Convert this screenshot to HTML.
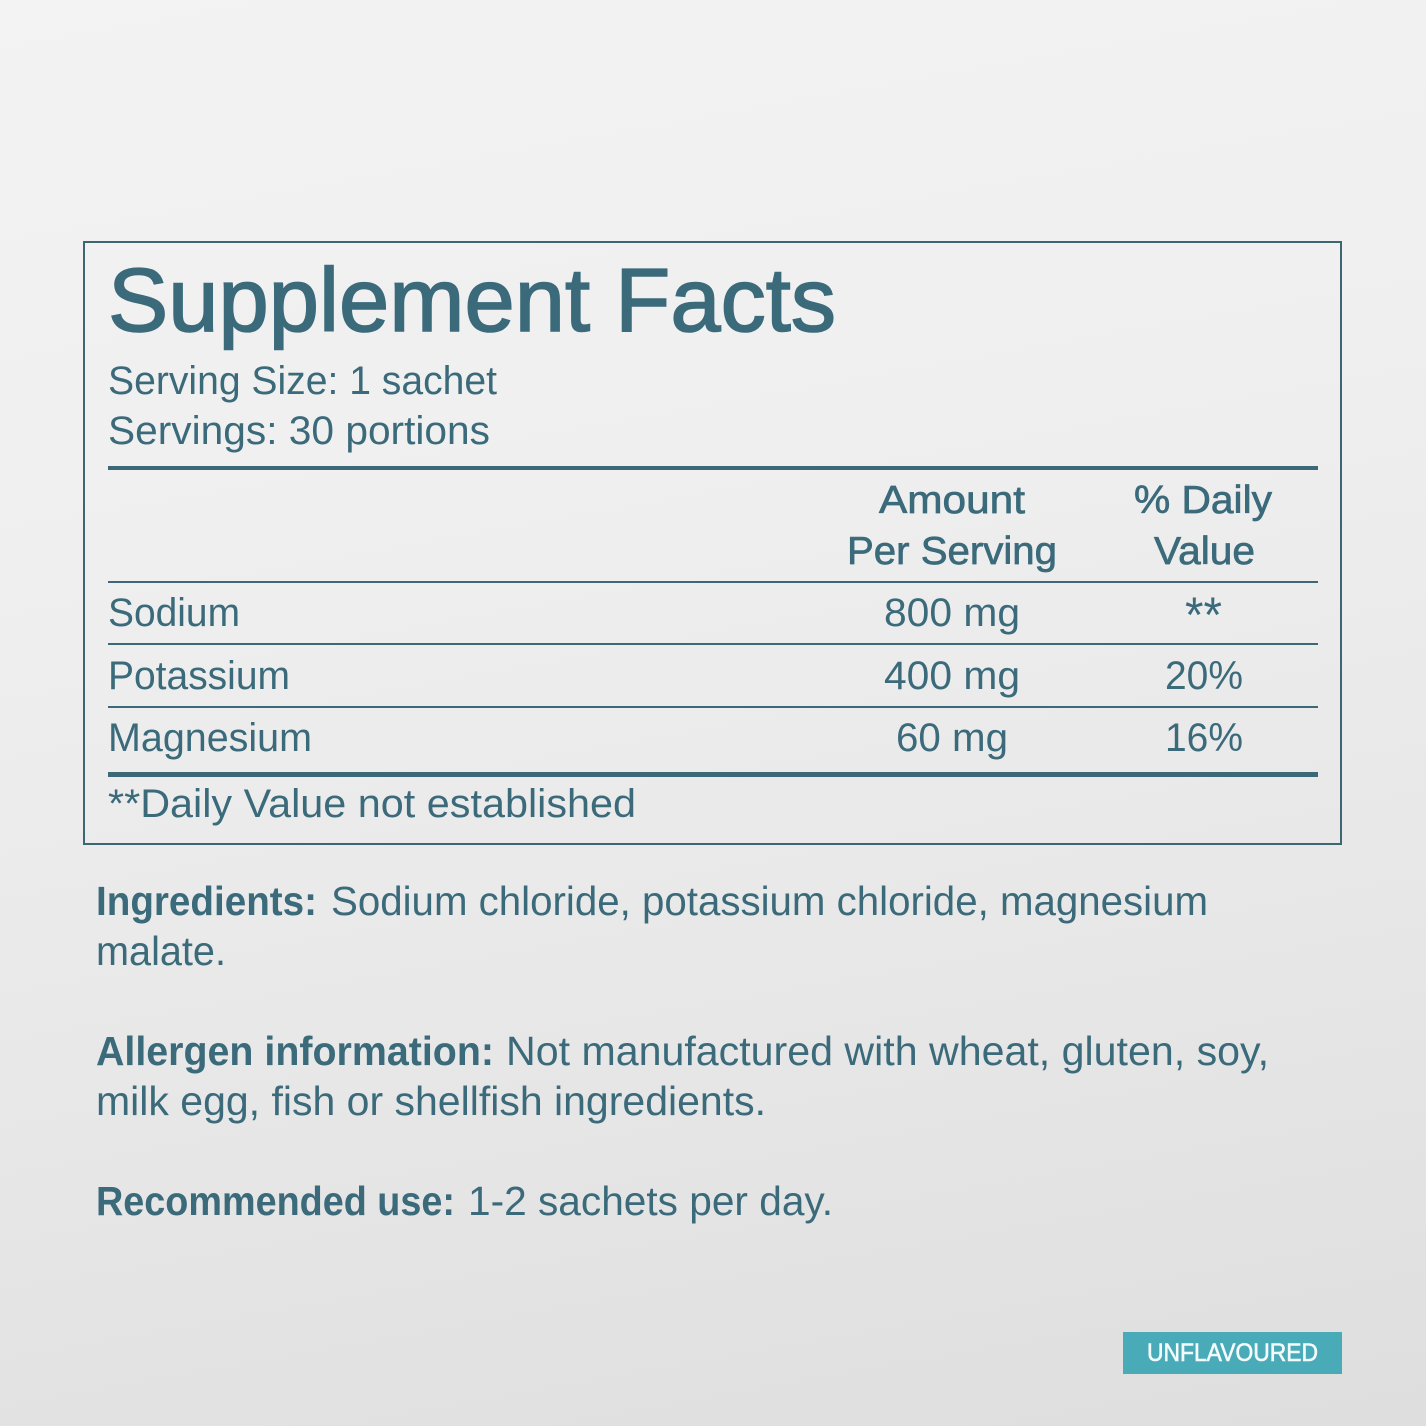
<!DOCTYPE html>
<html>
<head>
<meta charset="utf-8">
<style>
  html,body{margin:0;padding:0;}
  body{width:1426px;height:1426px;overflow:hidden;
    background:linear-gradient(170deg,#f3f3f3 0%,#efefef 35%,#e8e8e8 65%,#dedede 100%);}
  svg{display:block;}
  text{font-family:"Liberation Sans",Arial,sans-serif;fill:#3b6a7b;}
</style>
</head>
<body>
<svg width="1426" height="1426" viewBox="0 0 1426 1426" xmlns="http://www.w3.org/2000/svg">
  <!-- Box -->
  <rect x="84" y="242" width="1257" height="602" fill="none" stroke="#3d6673" stroke-width="2"/>

  <!-- Title -->
  <text x="108" y="331" font-size="90" textLength="728" lengthAdjust="spacingAndGlyphs" stroke="#3b6a7b" stroke-width="1.6">Supplement Facts</text>
  <text x="108" y="394" font-size="40" textLength="389" lengthAdjust="spacingAndGlyphs">Serving Size: 1 sachet</text>
  <text x="108" y="444" font-size="40" textLength="382" lengthAdjust="spacingAndGlyphs">Servings: 30 portions</text>

  <!-- Lines -->
  <rect x="108" y="466" width="1210" height="4" fill="#3d6878"/>
  <rect x="108" y="581" width="1210" height="2" fill="#3d6878"/>
  <rect x="108" y="643" width="1210" height="2" fill="#3d6878"/>
  <rect x="108" y="706" width="1210" height="2" fill="#3d6878"/>
  <rect x="108" y="772" width="1210" height="5" fill="#3d6878"/>

  <!-- Header -->
  <text x="879" y="513" font-size="39" textLength="146" lengthAdjust="spacingAndGlyphs" stroke="#3b6a7b" stroke-width="0.7">Amount</text>
  <text x="847" y="564" font-size="39" textLength="210" lengthAdjust="spacingAndGlyphs" stroke="#3b6a7b" stroke-width="0.7">Per Serving</text>
  <text x="1134" y="513" font-size="39" textLength="138" lengthAdjust="spacingAndGlyphs" stroke="#3b6a7b" stroke-width="0.7">% Daily</text>
  <text x="1154" y="564" font-size="39" textLength="101" lengthAdjust="spacingAndGlyphs" stroke="#3b6a7b" stroke-width="0.7">Value</text>

  <!-- Rows -->
  <text x="108" y="626" font-size="40" textLength="132" lengthAdjust="spacingAndGlyphs">Sodium</text>
  <text x="884" y="626" font-size="40" textLength="136" lengthAdjust="spacingAndGlyphs">800 mg</text>
  <text x="1185" y="632" font-size="50" textLength="37" lengthAdjust="spacingAndGlyphs">**</text>

  <text x="108" y="689" font-size="40" textLength="182" lengthAdjust="spacingAndGlyphs">Potassium</text>
  <text x="884" y="689" font-size="40" textLength="136" lengthAdjust="spacingAndGlyphs">400 mg</text>
  <text x="1165" y="689" font-size="40" textLength="78" lengthAdjust="spacingAndGlyphs">20%</text>

  <text x="108" y="751" font-size="40" textLength="204" lengthAdjust="spacingAndGlyphs">Magnesium</text>
  <text x="896" y="751" font-size="40" textLength="112" lengthAdjust="spacingAndGlyphs">60 mg</text>
  <text x="1165" y="751" font-size="40" textLength="78" lengthAdjust="spacingAndGlyphs">16%</text>

  <text x="108" y="817" font-size="40" textLength="528" lengthAdjust="spacingAndGlyphs">**Daily Value not established</text>

  <!-- Ingredients -->
  <text x="96" y="915" font-size="41" font-weight="bold" textLength="221" lengthAdjust="spacingAndGlyphs">Ingredients:</text>
  <text x="331" y="915" font-size="41" textLength="877" lengthAdjust="spacingAndGlyphs">Sodium chloride, potassium chloride, magnesium</text>
  <text x="96" y="965" font-size="41" textLength="130" lengthAdjust="spacingAndGlyphs">malate.</text>

  <text x="96" y="1065" font-size="41" font-weight="bold" textLength="398" lengthAdjust="spacingAndGlyphs">Allergen information:</text>
  <text x="506" y="1065" font-size="41" textLength="763" lengthAdjust="spacingAndGlyphs">Not manufactured with wheat, gluten, soy,</text>
  <text x="96" y="1115" font-size="41" textLength="670" lengthAdjust="spacingAndGlyphs">milk egg, fish or shellfish ingredients.</text>

  <text x="96" y="1215" font-size="41" font-weight="bold" textLength="359" lengthAdjust="spacingAndGlyphs">Recommended use:</text>
  <text x="468" y="1215" font-size="41" textLength="365" lengthAdjust="spacingAndGlyphs">1-2 sachets per day.</text>

  <!-- Badge -->
  <rect x="1123" y="1332" width="219" height="42" fill="#4aabb8"/>
  <text x="1147" y="1361" font-size="25" textLength="171" lengthAdjust="spacingAndGlyphs" stroke="#f4fbfc" stroke-width="0.6" style="fill:#f4fbfc">UNFLAVOURED</text>
</svg>
</body>
</html>
